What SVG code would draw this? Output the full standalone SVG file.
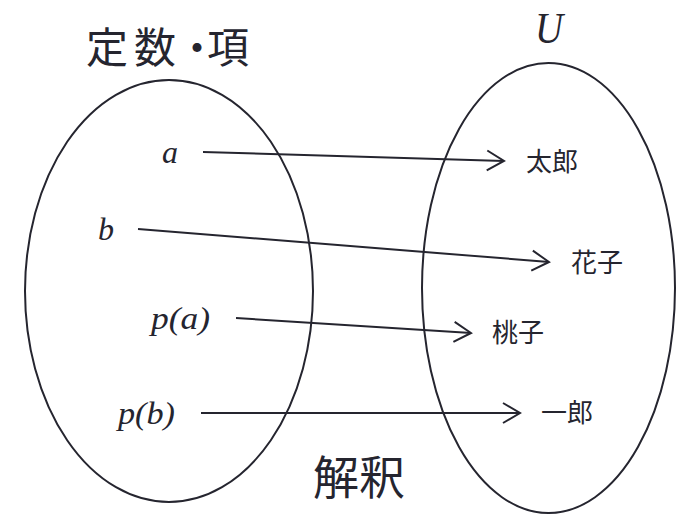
<svg xmlns="http://www.w3.org/2000/svg" width="681" height="515" viewBox="0 0 681 515">
<defs>
<style>
.shape{fill:none;stroke:#25252f;stroke-width:2}
.conn{fill:none;stroke:#25252f;stroke-width:2}
.jp{font-family:"Noto Sans CJK JP","Noto Sans",sans-serif;font-weight:400;fill:#25252f}
.math{font-family:"Liberation Serif","DejaVu Serif",serif;font-style:italic;fill:#25252f}
</style>
<marker id="open" markerWidth="20" markerHeight="24" refX="17" refY="10" orient="auto" markerUnits="userSpaceOnUse" viewBox="0 0 20 20" overflow="visible">
<path d="M0,0 L17,10 L0,20" fill="none" stroke="#25252f" stroke-width="2"/>
</marker>
</defs>
<rect width="681" height="515" fill="#ffffff"/>
<g id="constants">
<ellipse class="shape" cx="169" cy="291" rx="144" ry="211"/>
<text class="jp" x="86 134 176 207" y="63" font-size="42">定数・項</text>
<text class="math" x="162" y="163" font-size="32">a</text>
<text class="math" x="98" y="240" font-size="32">b</text>
<text class="math" x="151" y="329" font-size="32" textLength="59" lengthAdjust="spacingAndGlyphs">p(a)</text>
<text class="math" x="118" y="424" font-size="32" textLength="57" lengthAdjust="spacingAndGlyphs">p(b)</text>
</g>
<g id="universe">
<ellipse class="shape" cx="548.5" cy="288" rx="126.5" ry="225"/>
<text class="math" x="535" y="43" font-size="44" textLength="28" lengthAdjust="spacingAndGlyphs">U</text>
<text class="jp" x="526" y="171" font-size="26">太郎</text>
<text class="jp" x="571" y="272" font-size="26">花子</text>
<text class="jp" x="492" y="342" font-size="26">桃子</text>
<text class="jp" x="541" y="422" font-size="26">一郎</text>
</g>
<g id="interpretation">
<text class="jp" x="313" y="494" font-size="46">解釈</text>
</g>
<g id="connectors">
<line class="conn" x1="203" y1="152" x2="504" y2="161" marker-end="url(#open)"/>
<line class="conn" x1="138" y1="229" x2="549" y2="262" marker-end="url(#open)"/>
<line class="conn" x1="236" y1="318" x2="471" y2="333" marker-end="url(#open)"/>
<line class="conn" x1="201" y1="413" x2="520" y2="413" marker-end="url(#open)"/>
</g>
</svg>
